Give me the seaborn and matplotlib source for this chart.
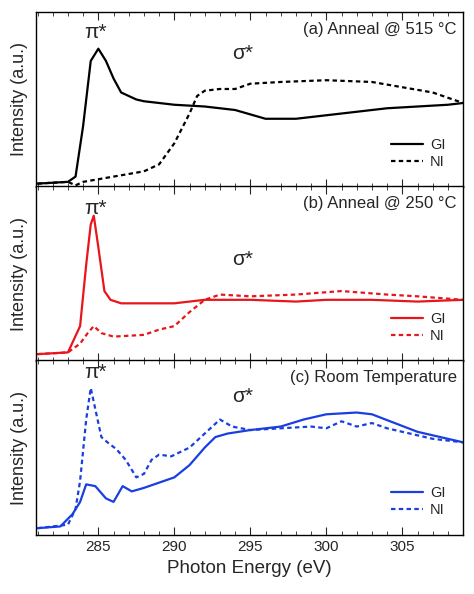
import matplotlib
matplotlib.use("Agg")
import matplotlib.pyplot as plt
import seaborn as sns
import pandas as pd
from matplotlib.ticker import MultipleLocator

sns.set_style("white")
plt.rcParams['font.family'] = ['Liberation Sans', 'DejaVu Sans']

# Panel (a) Anneal @ 515 C
a_gi_x = [281, 283, 283.5, 284, 284.5, 285, 285.5, 286, 286.5, 287.5, 288, 290, 292, 294, 296, 298, 300, 302, 304, 306, 308, 309]
a_gi_y = [0.02, 0.03, 0.06, 0.35, 0.72, 0.79, 0.72, 0.62, 0.54, 0.50, 0.49, 0.47, 0.46, 0.44, 0.39, 0.39, 0.41, 0.43, 0.45, 0.46, 0.47, 0.48]
a_ni_x = [281, 283, 283.5, 284, 286, 288, 289, 290, 291, 291.5, 292, 293, 294, 295, 297, 300, 303, 305, 307, 309]
a_ni_y = [0.02, 0.03, 0.01, 0.03, 0.06, 0.09, 0.13, 0.25, 0.42, 0.52, 0.55, 0.56, 0.56, 0.59, 0.60, 0.61, 0.60, 0.57, 0.54, 0.48]

# Panel (b) Anneal @ 250 C
b_gi_x = [281, 283, 283.8, 284.2, 284.5, 284.7, 285.0, 285.4, 285.8, 286.5, 288, 290, 291, 292, 295, 298, 300, 303, 306, 309]
b_gi_y = [0.04, 0.05, 0.20, 0.55, 0.78, 0.83, 0.65, 0.40, 0.35, 0.33, 0.33, 0.33, 0.34, 0.35, 0.35, 0.34, 0.35, 0.35, 0.34, 0.35]
b_ni_x = [281, 283, 283.8, 284.3, 284.7, 285.2, 286, 288, 289, 290, 291, 292, 293, 295, 298, 301, 304, 306, 309]
b_ni_y = [0.04, 0.05, 0.10, 0.16, 0.20, 0.16, 0.14, 0.15, 0.18, 0.20, 0.28, 0.35, 0.38, 0.37, 0.38, 0.40, 0.38, 0.37, 0.35]

# Panel (c) Room Temperature
c_gi_x = [281, 282.5, 283.3, 283.8, 284.2, 284.8, 285.5, 286.0, 286.6, 287.2, 288, 289, 290, 291, 292, 292.7, 293.5, 295, 297, 298.5, 300, 302, 303, 304.5, 306, 307.5, 309]
c_gi_y = [0.04, 0.05, 0.12, 0.19, 0.29, 0.28, 0.21, 0.19, 0.28, 0.25, 0.27, 0.30, 0.33, 0.40, 0.50, 0.56, 0.58, 0.60, 0.62, 0.66, 0.69, 0.70, 0.69, 0.64, 0.59, 0.56, 0.53]
c_ni_x = [281, 283, 283.5, 283.8, 284.2, 284.5, 284.8, 285.2, 285.6, 286.2, 286.8, 287.5, 288, 288.5, 289, 289.8, 291, 292, 293, 293.8, 295, 297, 299, 300, 301, 302, 303, 304, 305.5, 307, 309]
c_ni_y = [0.04, 0.06, 0.15, 0.31, 0.66, 0.84, 0.72, 0.56, 0.53, 0.49, 0.43, 0.33, 0.35, 0.43, 0.46, 0.45, 0.50, 0.58, 0.66, 0.62, 0.60, 0.61, 0.62, 0.61, 0.65, 0.62, 0.64, 0.61, 0.58, 0.55, 0.53]

panels = [
    ("(a) Anneal @ 515 °C", "black", a_gi_x, a_gi_y, a_ni_x, a_ni_y, (0.88, 0.76)),
    ("(b) Anneal @ 250 °C", "#e8161b", b_gi_x, b_gi_y, b_ni_x, b_ni_y, (0.87, 0.58)),
    ("(c) Room Temperature", "#1a3fe0", c_gi_x, c_gi_y, c_ni_x, c_ni_y, (0.93, 0.79)),
]

fig = plt.figure(figsize=(4.74, 5.94), dpi=100)
bottoms = [0.685, 0.392, 0.099]
h = 0.295
for i, (title, col, gx, gy, nx, ny, (py, sy)) in enumerate(panels):
    ax = fig.add_axes([0.076, bottoms[i], 0.901, h])
    sns.lineplot(x=gx, y=gy, ax=ax, color=col, lw=1.6, label="GI")
    sns.lineplot(x=nx, y=ny, ax=ax, color=col, lw=1.6, linestyle=(0, (2, 1.5)), label="NI")
    ax.set_xlim(280.9, 309)
    ax.set_ylim(0, 1)
    ax.set_yticks([])
    ax.xaxis.set_major_locator(MultipleLocator(5))
    ax.xaxis.set_minor_locator(MultipleLocator(1))
    ax.tick_params(axis='x', which='major', direction='in', length=6, top=True, bottom=True, labelsize=11)
    ax.tick_params(axis='x', which='minor', direction='in', length=3, top=True, bottom=True)
    for s in ax.spines.values():
        s.set_color("black"); s.set_linewidth(1.0)
    if i < 2:
        ax.set_xticklabels([])
    else:
        ax.set_xlabel("Photon Energy (eV)", fontsize=13.5)
    ax.set_ylabel("Intensity (a.u.)", fontsize=13, labelpad=6)
    ax.text(0.985, 0.94, title, transform=ax.transAxes, ha='right', va='top', fontsize=12)
    ax.text(284.8, py, "π*", ha='center', va='center', fontsize=15)
    ax.text(294.5, sy, "σ*", ha='center', va='center', fontsize=15)
    ax.legend(loc='lower right', bbox_to_anchor=(0.99, 0.03), frameon=False, fontsize=10.5,
              handlelength=2.2, labelspacing=0.2, handletextpad=0.5)

fig.savefig("out.png", dpi=100)
